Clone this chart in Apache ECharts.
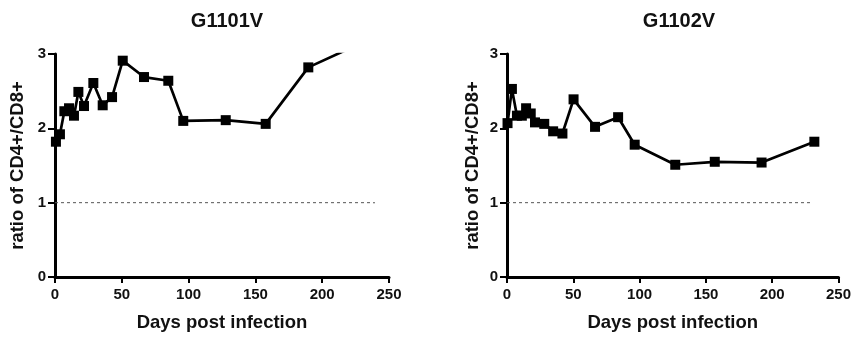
<!DOCTYPE html>
<html>
<head>
<meta charset="utf-8">
<script src="https://cdn.jsdelivr.net/npm/echarts@6/dist/echarts.min.js"></script>
<style>
html,body{margin:0;padding:0;background:#fff;}
#c{width:854px;height:338px;}
</style>
</head>
<body>
<div id="c"></div>
<script>
var titles = ['G1101V', 'G1102V'];
var xTitle = 'Days post infection';
var yTitle = 'ratio of CD4+/CD8+';

var daysA  = [0.7, 3.7, 7, 10.5, 14.2, 17.5, 21.7, 28.7, 35.7, 42.7, 50.7, 66.6, 84.8, 96, 127.8, 157.7, 189.6, 232];
var ratioA = [1.82, 1.92, 2.23, 2.27, 2.17, 2.49, 2.30, 2.61, 2.31, 2.42, 2.91, 2.69, 2.64, 2.10, 2.11, 2.06, 2.82, 3.17];

var daysB  = [0.4, 3.7, 7.5, 11.2, 14.4, 17.9, 21.1, 28.1, 34.8, 41.8, 50.2, 66.4, 83.8, 96.3, 126.9, 156.7, 192, 231.8];
var ratioB = [2.07, 2.53, 2.17, 2.17, 2.27, 2.20, 2.08, 2.06, 1.96, 1.93, 2.39, 2.02, 2.15, 1.78, 1.51, 1.55, 1.54, 1.82];

var refA = [[0, 1], [239.5, 1]];
var refB = [[0, 1], [228.8, 1]];

function pairs(xs, ys) { return xs.map(function (x, i) { return [x, ys[i]]; }); }

var FONT = 'Liberation Sans, Arial, sans-serif';
var grids = [
  {left: 55, top: 54, width: 334, height: 223},
  {left: 507, top: 54, width: 335, height: 223}
];

function xAxis(i) {
  return {
    type: 'value', gridIndex: i, min: 0, max: 250, interval: 50,
    name: xTitle, nameLocation: 'middle', nameGap: 36,
    nameTextStyle: {fontFamily: FONT, fontWeight: 'bold', fontSize: 18.5, color: '#111'},
    axisLine: {onZero: false, lineStyle: {color: '#000', width: 3}},
    axisTick: {length: 6, lineStyle: {color: '#000', width: 2}},
    axisLabel: {fontFamily: FONT, fontWeight: 'bold', fontSize: 15, color: '#111', margin: 10},
    splitLine: {show: false}
  };
}
function yAxis(i, gap) {
  return {
    type: 'value', gridIndex: i, min: 0, max: 3, interval: 1,
    name: yTitle, nameLocation: 'middle', nameGap: gap, nameRotate: 90,
    nameTextStyle: {fontFamily: FONT, fontWeight: 'bold', fontSize: 18.5, color: '#111'},
    axisLine: {onZero: false, lineStyle: {color: '#000', width: 3}},
    axisTick: {length: 7, lineStyle: {color: '#000', width: 2}},
    axisLabel: {fontFamily: FONT, fontWeight: 'bold', fontSize: 15, color: '#111', margin: 9},
    splitLine: {show: false}
  };
}
function dataSeries(i, d) {
  return {
    type: 'line', xAxisIndex: i, yAxisIndex: i, data: d, clip: true,
    symbol: 'rect', symbolSize: 10, showSymbol: true,
    lineStyle: {color: '#000', width: 2.7},
    itemStyle: {color: '#000'},
    animation: false, z: 3
  };
}
function refSeries(i, d) {
  return {
    type: 'line', xAxisIndex: i, yAxisIndex: i, data: d, symbol: 'none',
    lineStyle: {color: '#555', width: 1, type: [3, 3]},
    animation: false, z: 2
  };
}

var chart = echarts.init(document.getElementById('c'), null, {renderer: 'canvas'});
chart.setOption({
  backgroundColor: '#fff',
  animation: false,
  title: [
    {text: titles[0], left: 222, top: 6, textAlign: 'center',
     textStyle: {fontFamily: FONT, fontWeight: 'bold', fontSize: 20, color: '#111'}},
    {text: titles[1], left: 674, top: 6, textAlign: 'center',
     textStyle: {fontFamily: FONT, fontWeight: 'bold', fontSize: 20, color: '#111'}}
  ],
  grid: grids,
  xAxis: [xAxis(0), xAxis(1)],
  yAxis: [yAxis(0, 28), yAxis(1, 24.5)],
  series: [
    refSeries(0, refA), dataSeries(0, pairs(daysA, ratioA)),
    refSeries(1, refB), dataSeries(1, pairs(daysB, ratioB))
  ]
});
</script>
</body>
</html>
